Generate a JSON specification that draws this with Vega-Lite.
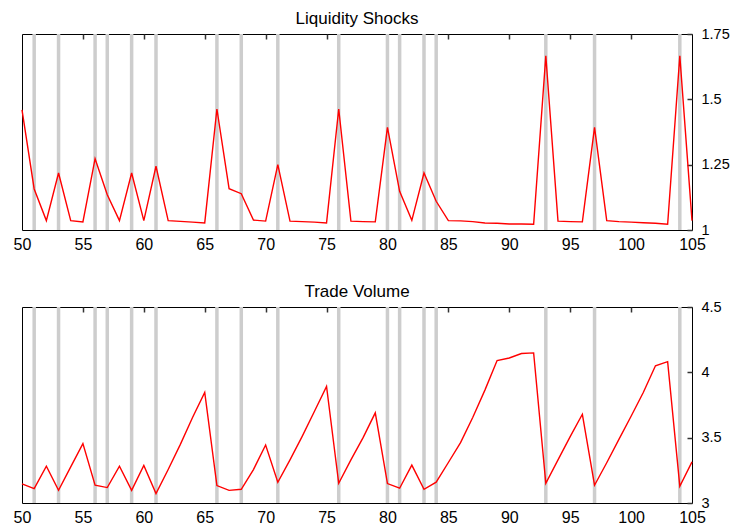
{
  "$schema": "https://vega.github.io/schema/vega-lite/v6.json",
  "padding": {"top": 9, "left": 12, "right": 5, "bottom": 5},
  "background": "white",
  "datasets": {
    "bars": [{"t":51},{"t":53},{"t":56},{"t":57},{"t":59},{"t":61},{"t":66},{"t":68},{"t":71},{"t":76},{"t":80},{"t":81},{"t":83},{"t":84},{"t":93},{"t":97},{"t":104}],
    "ls": [
      {"t":50,"v":1.46},{"t":51,"v":1.157},{"t":52,"v":1.036},{"t":53,"v":1.218},{"t":54,"v":1.036},
      {"t":55,"v":1.031},{"t":56,"v":1.273},{"t":57,"v":1.135},{"t":58,"v":1.036},{"t":59,"v":1.218},
      {"t":60,"v":1.036},{"t":61,"v":1.244},{"t":62,"v":1.036},{"t":63,"v":1.033},{"t":64,"v":1.030},
      {"t":65,"v":1.027},{"t":66,"v":1.463},{"t":67,"v":1.158},{"t":68,"v":1.139},{"t":69,"v":1.038},
      {"t":70,"v":1.034},{"t":71,"v":1.25},{"t":72,"v":1.034},{"t":73,"v":1.032},{"t":74,"v":1.030},
      {"t":75,"v":1.027},{"t":76,"v":1.463},{"t":77,"v":1.034},{"t":78,"v":1.032},{"t":79,"v":1.031},
      {"t":80,"v":1.393},{"t":81,"v":1.148},{"t":82,"v":1.037},{"t":83,"v":1.218},{"t":84,"v":1.11},
      {"t":85,"v":1.036},{"t":86,"v":1.035},{"t":87,"v":1.032},{"t":88,"v":1.027},{"t":89,"v":1.026},
      {"t":90,"v":1.023},{"t":91,"v":1.023},{"t":92,"v":1.022},{"t":93,"v":1.667},{"t":94,"v":1.034},
      {"t":95,"v":1.032},{"t":96,"v":1.031},{"t":97,"v":1.393},{"t":98,"v":1.036},{"t":99,"v":1.032},
      {"t":100,"v":1.030},{"t":101,"v":1.028},{"t":102,"v":1.026},{"t":103,"v":1.022},{"t":104,"v":1.667},
      {"t":105,"v":1.036}
    ],
    "tv": [
      {"t":50,"v":3.146},{"t":51,"v":3.11},{"t":52,"v":3.282},{"t":53,"v":3.097},{"t":54,"v":3.277},
      {"t":55,"v":3.454},{"t":56,"v":3.136},{"t":57,"v":3.118},{"t":58,"v":3.282},{"t":59,"v":3.097},
      {"t":60,"v":3.287},{"t":61,"v":3.072},{"t":62,"v":3.256},{"t":63,"v":3.449},{"t":64,"v":3.654},
      {"t":65,"v":3.846},{"t":66,"v":3.133},{"t":67,"v":3.097},{"t":68,"v":3.105},{"t":69,"v":3.256},
      {"t":70,"v":3.444},{"t":71,"v":3.159},{"t":72,"v":3.33},{"t":73,"v":3.51},{"t":74,"v":3.7},
      {"t":75,"v":3.892},{"t":76,"v":3.151},{"t":77,"v":3.33},{"t":78,"v":3.5},{"t":79,"v":3.69},
      {"t":80,"v":3.149},{"t":81,"v":3.113},{"t":82,"v":3.29},{"t":83,"v":3.105},{"t":84,"v":3.159},
      {"t":85,"v":3.31},{"t":86,"v":3.462},{"t":87,"v":3.654},{"t":88,"v":3.864},{"t":89,"v":4.09},
      {"t":90,"v":4.11},{"t":91,"v":4.144},{"t":92,"v":4.149},{"t":93,"v":3.151},{"t":94,"v":3.33},
      {"t":95,"v":3.508},{"t":96,"v":3.679},{"t":97,"v":3.136},{"t":98,"v":3.308},{"t":99,"v":3.487},
      {"t":100,"v":3.664},{"t":101,"v":3.846},{"t":102,"v":4.05},{"t":103,"v":4.082},{"t":104,"v":3.128},
      {"t":105,"v":3.315}
    ]
  },
  "config": {
    "font": "Liberation Sans",
    "view": {"stroke": "black", "strokeWidth": 1},
    "axis": {"grid": false, "domain": false, "tickColor": "#333333", "tickWidth": 1.5, "labelColor": "black", "labelFont": "Liberation Sans"},
    "title": {"fontSize": 17, "fontWeight": "normal", "font": "Liberation Sans", "color": "black"},
    "concat": {"spacing": 29}
  },
  "vconcat": [
    {
      "title": {"text": "Liquidity Shocks", "offset": -2},
      "width": 670,
      "height": 196,
      "layer": [
        {
          "data": {"name": "bars"},
          "mark": {"type": "rule", "color": "#cdcdcd", "strokeWidth": 3.5},
          "encoding": {
            "x": {"field": "t", "type": "quantitative", "scale": {"domain": [50, 105], "nice": false, "zero": false},
                  "axis": {"orient": "bottom", "values": [50,55,60,65,70,75,80,85,90,95,100,105], "ticks": false, "labelPadding": 6, "labelFontSize": 16, "title": null, "labelFlush": false}}
          }
        },
        {
          "data": {"name": "ls"},
          "mark": {"type": "line", "color": "#ff0000", "strokeWidth": 1.4},
          "encoding": {
            "x": {"field": "t", "type": "quantitative",
                  "axis": {"orient": "top", "values": [55,60,65,70,75,80,85,90,95,100], "labels": false, "tickSize": -5, "title": null}},
            "y": {"field": "v", "type": "quantitative", "scale": {"domain": [1, 1.75], "nice": false, "zero": false},
                  "axis": {"orient": "right", "values": [1, 1.25, 1.5, 1.75], "tickSize": -5, "labelPadding": 14, "labelFontSize": 14.5, "labelExpr": "'' + datum.value", "title": null, "labelFlush": false}}
          }
        }
      ],
      "resolve": {"axis": {"x": "independent"}}
    },
    {
      "title": {"text": "Trade Volume", "offset": -2},
      "width": 670,
      "height": 196,
      "layer": [
        {
          "data": {"name": "bars"},
          "mark": {"type": "rule", "color": "#cdcdcd", "strokeWidth": 3.5},
          "encoding": {
            "x": {"field": "t", "type": "quantitative", "scale": {"domain": [50, 105], "nice": false, "zero": false},
                  "axis": {"orient": "bottom", "values": [50,55,60,65,70,75,80,85,90,95,100,105], "ticks": false, "labelPadding": 6, "labelFontSize": 16, "title": null, "labelFlush": false}}
          }
        },
        {
          "data": {"name": "tv"},
          "mark": {"type": "line", "color": "#ff0000", "strokeWidth": 1.4},
          "encoding": {
            "x": {"field": "t", "type": "quantitative",
                  "axis": {"orient": "top", "values": [55,60,65,70,75,80,85,90,95,100], "labels": false, "tickSize": -5, "title": null}},
            "y": {"field": "v", "type": "quantitative", "scale": {"domain": [3, 4.5], "nice": false, "zero": false},
                  "axis": {"orient": "right", "values": [3, 3.5, 4, 4.5], "tickSize": -5, "labelPadding": 14, "labelFontSize": 14.5, "labelExpr": "'' + datum.value", "title": null, "labelFlush": false}}
          }
        }
      ],
      "resolve": {"axis": {"x": "independent"}}
    }
  ]
}
